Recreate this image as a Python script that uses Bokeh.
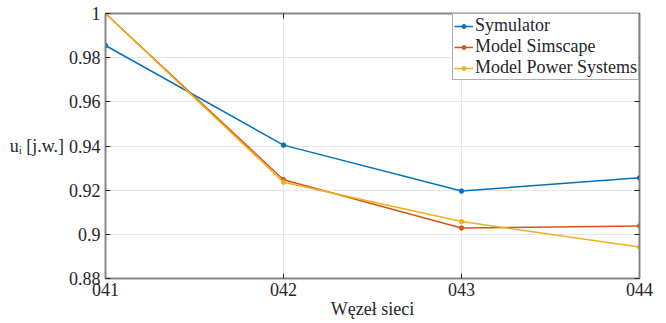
from bokeh.plotting import figure
from bokeh.models import LinearAxis, FixedTicker, Range1d, Legend, LegendItem
from bokeh.embed import file_html
from bokeh.resources import INLINE

nodes = ["041", "042", "043", "044"]
symulator = [0.9855, 0.9404, 0.9196, 0.9256]
simscape = [1.0, 0.9247, 0.9029, 0.9038]
power_systems = [1.0, 0.9236, 0.9058, 0.8943]
y_ticks = [0.88, 0.9, 0.92, 0.94, 0.96, 0.98, 1.0]
y_tick_labels = ["0.88", "0.9", "0.92", "0.94", "0.96", "0.98", "1"]

FONT = "Liberation Serif"
FS = "18px"
AX = "#808080"
TXT = "#262626"

xs = list(range(len(nodes)))
p = figure(width=666, height=323, output_backend="svg", toolbar_location=None,
           x_range=Range1d(0, 3), y_range=Range1d(0.88, 1.0),
           min_border_left=105, min_border_right=27, min_border_top=13, min_border_bottom=45)
p.outline_line_color = AX
p.outline_line_width = 1.5
p.background_fill_color = "white"

for ax in (p.xaxis[0], p.yaxis[0]):
    ax.axis_line_color = AX
    ax.axis_line_width = 1.5
    ax.major_tick_in = 5
    ax.major_tick_out = 0
    ax.minor_tick_line_color = None
    ax.major_tick_line_color = TXT
    ax.major_label_text_font = FONT
    ax.major_label_text_font_size = FS
    ax.major_label_text_color = TXT
    ax.axis_label_text_font = FONT
    ax.axis_label_text_font_size = FS
    ax.axis_label_text_font_style = "normal"
    ax.axis_label_text_color = TXT

p.xaxis.ticker = FixedTicker(ticks=xs)
p.xaxis.major_label_overrides = {i: n for i, n in enumerate(nodes)}
p.xaxis.major_label_standoff = 4
p.xaxis.axis_label = "Węzeł sieci"
p.xaxis.axis_label_standoff = 0

p.yaxis.ticker = FixedTicker(ticks=y_ticks)
p.yaxis.major_label_overrides = dict(zip(y_ticks, y_tick_labels))
p.yaxis.major_label_standoff = 5
p.yaxis.axis_label = "uᵢ [j.w.]"
p.yaxis.axis_label_orientation = "horizontal"
p.yaxis.axis_label_standoff = 2

for loc in ("right", "above"):
    ticks = y_ticks if loc == "right" else xs
    a = LinearAxis(ticker=FixedTicker(ticks=ticks),
                   major_label_overrides={t: "" for t in ticks}, major_label_standoff=0,
                   axis_line_color=AX, axis_line_width=1.5,
                   major_tick_in=5, major_tick_out=0, minor_tick_line_color=None,
                   major_tick_line_color=TXT)
    p.add_layout(a, loc)

p.xgrid.grid_line_color = "#e6e6e6"
p.ygrid.grid_line_color = "#e6e6e6"
p.xgrid.ticker = FixedTicker(ticks=xs)
p.ygrid.ticker = FixedTicker(ticks=y_ticks)

colors = ["#0072BD", "#D95319", "#EDB120"]
names = ["Symulator", "Model Simscape", "Model Power Systems"]
items = []
for ys, c, n in zip([symulator, simscape, power_systems], colors, names):
    l = p.line(xs, ys, line_color=c, line_width=1.5)
    s = p.scatter(xs, ys, size=4.5, color=c)
    items.append(LegendItem(label=n, renderers=[l, s]))

legend = Legend(items=items, location="top_right", label_text_font=FONT,
                label_text_font_size=FS, label_text_color=TXT,
                border_line_color="#606060", border_line_width=1.5,
                padding=1, spacing=0, margin=0, glyph_width=19, glyph_height=10,
                label_height=21, label_standoff=2)
p.add_layout(legend)

open("out.html", "w").write(file_html(p, INLINE))
